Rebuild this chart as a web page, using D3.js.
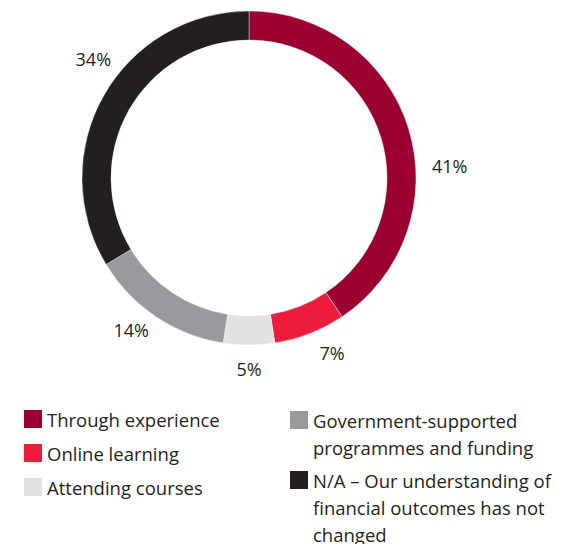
<!DOCTYPE html>
<html>
<head>
<meta charset="utf-8">
<script src="https://cdn.jsdelivr.net/npm/d3@7"></script>
<style>
  html, body { margin: 0; padding: 0; background: #fff; }
  svg { display: block; font-family: "Open Sans", "Noto Sans", sans-serif; }
</style>
</head>
<body>
<svg id="chart" width="570" height="544"></svg>
<script>
// Sources of financial understanding (share of respondents, %)
const categories = [
  "Through experience",
  "Online learning",
  "Attending courses",
  "Government-supported programmes and funding",
  "N/A – Our understanding of financial outcomes has not changed"
];
const values = [41, 7, 5, 14, 34];
const valueLabels = ["41%", "7%", "5%", "14%", "34%"];
const colors = ["#9b0031", "#ee1c3c", "#e1e2e4", "#98999d", "#231f20"];

// Legend entries, wrapped as printed, arranged in two columns
const legendLines = [
  ["Through experience"],
  ["Online learning"],
  ["Attending courses"],
  ["Government-supported", "programmes and funding"],
  ["N/A – Our understanding of", "financial outcomes has not", "changed"]
];

const svg = d3.select("#chart");
const cx = 249, cy = 178;
const outerR = 167, innerR = 138;
const textColor = "#231f20";

const pie = d3.pie().sort(null).value(d => d)(values);
const arc = d3.arc().innerRadius(innerR).outerRadius(outerR);

const g = svg.append("g").attr("transform", `translate(${cx},${cy})`);

g.selectAll("path.slice")
  .data(pie)
  .join("path")
  .attr("class", "slice")
  .attr("d", arc)
  .attr("fill", (d, i) => colors[i])
  .attr("stroke", "#fff")
  .attr("stroke-width", 0.4);

// Percentage labels sit outside the ring; a small angular / radial nudge
// keeps each one clear of its neighbours.
const labelR = 194;
const nudgeDeg = [13.5, -4, 0, 4, 8];
const nudgeR = [7, 0, -3, -2, 2];
g.selectAll("text.pct")
  .data(pie)
  .join("text")
  .attr("class", "pct")
  .each(function (d, i) {
    const a = (d.startAngle + d.endAngle) / 2 + nudgeDeg[i] * Math.PI / 180;
    const r = labelR + nudgeR[i];
    d3.select(this)
      .attr("x", r * Math.sin(a))
      .attr("y", -r * Math.cos(a));
  })
  .attr("text-anchor", "middle")
  .attr("dominant-baseline", "central")
  .attr("font-size", 18)
  .attr("fill", textColor)
  .text((d, i) => valueLabels[i]);

// Legend
const colX = [24, 290];
const rowsLeft = [419, 453, 487];
const rowsRight = [420, 480];
const lineH = 27;
const sq = 18;

const legend = svg.append("g").attr("class", "legend");
categories.forEach((c, i) => {
  const left = i < 3;
  const x = left ? colX[0] : colX[1];
  const y = left ? rowsLeft[i] : rowsRight[i - 3];
  const item = legend.append("g");
  item.append("rect")
    .attr("x", x)
    .attr("y", y - sq / 2)
    .attr("width", sq)
    .attr("height", sq)
    .attr("fill", colors[i]);
  const t = item.append("text")
    .attr("x", x + sq + 5)
    .attr("y", y)
    .attr("dominant-baseline", "central")
    .attr("font-size", 18.5)
    .attr("fill", textColor);
  legendLines[i].forEach((ln, k) => {
    t.append("tspan")
      .attr("x", x + sq + 5)
      .attr("y", y + k * lineH)
      .text(ln);
  });
});
</script>
</body>
</html>
